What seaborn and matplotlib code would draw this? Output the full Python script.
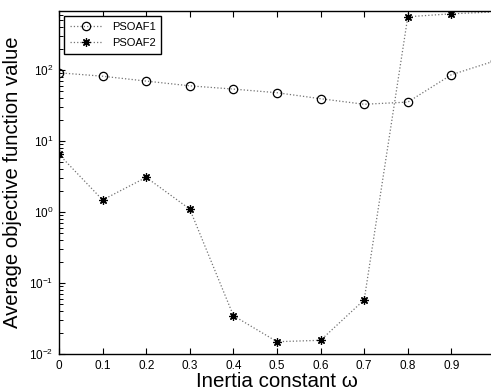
import matplotlib
matplotlib.use("Agg")
import matplotlib.pyplot as plt
import matplotlib.ticker as mticker
import numpy as np
import seaborn as sns

# inertia constant values (last point sits just past the cropped right edge)
omega = [0.0, 0.1, 0.2, 0.3, 0.4, 0.5, 0.6, 0.7, 0.8, 0.9, 1.0]
psoaf1 = [91.6, 82.0, 70.0, 60.0, 54.0, 48.0, 39.5, 33.0, 35.4, 86.0, 135.0]
psoaf2 = [6.5, 1.48, 3.08, 1.1, 0.0347, 0.0149, 0.0156, 0.058, 564.0, 621.0, 660.0]

xtick_vals = [0.0, 0.1, 0.2, 0.3, 0.4, 0.5, 0.6, 0.7, 0.8, 0.9]
xtick_labels = ["0", "0.1", "0.2", "0.3", "0.4", "0.5", "0.6", "0.7", "0.8", "0.9"]

sns.set_theme(style="ticks")
plt.rcParams['font.family'] = ['Liberation Sans', 'DejaVu Sans']
plt.rcParams['mathtext.default'] = 'regular'
plt.rcParams['text.color'] = 'black'
plt.rcParams['axes.labelcolor'] = 'black'
plt.rcParams['xtick.color'] = 'black'
plt.rcParams['ytick.color'] = 'black'

W, H = 491, 392
fig = plt.figure(figsize=(W / 100, H / 100), dpi=100)
ax = fig.add_axes([59 / W, 38 / H, 436 / W, 343 / H])

line_kw = dict(color='0.45', linestyle=':', linewidth=0.9,
               markeredgecolor='black', markeredgewidth=0.9)
sns.lineplot(x=omega, y=psoaf1, ax=ax, marker='o', markersize=6,
             markerfacecolor='none', label='PSOAF1', **line_kw)
sns.lineplot(x=omega, y=psoaf2, ax=ax, marker=(8, 2, 0), markersize=6,
             markerfacecolor='black', label='PSOAF2', **line_kw)

ax.set_yscale('log')
ax.set_xlim(0, 1.0)
ax.set_ylim(0.01, 680)
ax.set_xticks(xtick_vals)
ax.set_xticklabels(xtick_labels)
ax.yaxis.set_major_locator(mticker.LogLocator(base=10, numticks=20))
ax.yaxis.set_minor_locator(mticker.LogLocator(base=10, subs=np.arange(2, 10), numticks=50))
ax.yaxis.set_minor_formatter(mticker.NullFormatter())

ax.tick_params(axis='both', which='both', direction='in', top=True, right=False,
               labelsize=8.5, pad=4, color='black', labelcolor='black')
ax.tick_params(axis='both', which='major', length=4, width=0.8)
ax.tick_params(axis='y', which='minor', left=True, length=3, width=0.7)
for sp in ax.spines.values():
    sp.set_linewidth(1.0)
    sp.set_color('black')

ax.set_xlabel('Inertia constant ω', fontsize=14.8, labelpad=0, color='black')
ax.set_ylabel('Average objective function value', fontsize=14.6, labelpad=5, color='black')

leg = ax.legend(loc='upper left', fontsize=8, frameon=True, fancybox=False,
                edgecolor='black', framealpha=1, borderaxespad=0.45,
                handlelength=3.0, borderpad=0.5, labelspacing=0.6)
leg.get_frame().set_linewidth(1.0)
for t in leg.get_texts():
    t.set_color('black')

fig.savefig('out.png', dpi=100)
